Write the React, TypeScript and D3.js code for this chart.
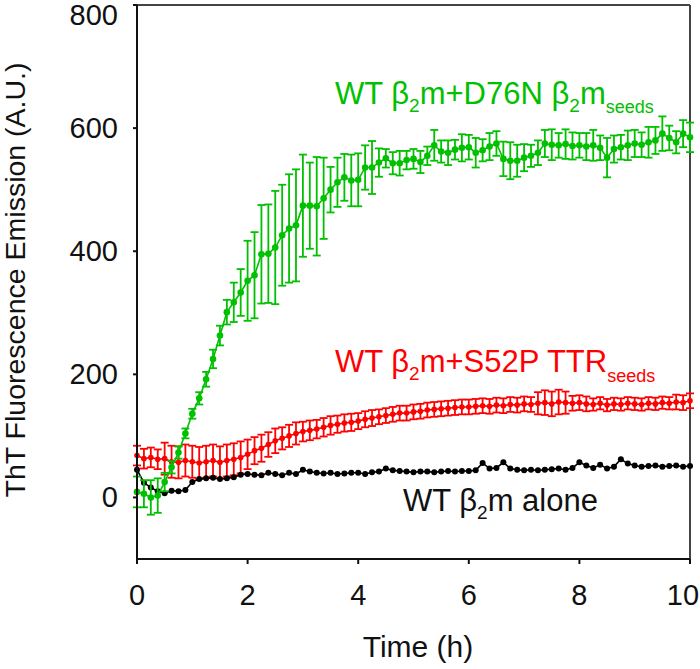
import React from "react";
import * as d3 from "d3";

const times = [
  0, 0.125, 0.25, 0.375, 0.5, 0.625, 0.75, 0.875, 1, 1.125, 1.25, 1.375, 1.5, 1.625, 1.75, 1.875,
  2, 2.125, 2.25, 2.375, 2.5, 2.625, 2.75, 2.875, 3, 3.125, 3.25, 3.375, 3.5, 3.625, 3.75, 3.875,
  4, 4.125, 4.25, 4.375, 4.5, 4.625, 4.75, 4.875, 5, 5.125, 5.25, 5.375, 5.5, 5.625, 5.75, 5.875,
  6, 6.125, 6.25, 6.375, 6.5, 6.625, 6.75, 6.875, 7, 7.125, 7.25, 7.375, 7.5, 7.625, 7.75, 7.875,
  8, 8.125, 8.25, 8.375, 8.5, 8.625, 8.75, 8.875, 9, 9.125, 9.25, 9.375, 9.5, 9.625, 9.75, 9.875, 10,
];

const greenValues = [
  9, 6, 0, 3, 25, 49, 73, 104, 136, 161, 192, 225, 263, 301, 317, 333,
  352, 361, 395, 396, 406, 426, 437, 442, 474, 474, 473, 486, 500, 512, 520, 515,
  516, 536, 536, 544, 551, 543, 543, 548, 550, 545, 555, 572, 562, 560, 565, 568,
  569, 560, 564, 570, 575, 550, 547, 547, 552, 555, 560, 575, 573, 572, 574, 571,
  572, 570, 572, 568, 552, 566, 569, 572, 575, 573, 577, 580, 591, 584, 577, 591, 585,
];
const greenErrors = [
  25, 22, 28, 28, 15, 10, 10, 8, 8, 10, 12, 15, 16, 20, 32, 38,
  65, 70, 80, 80, 92, 82, 88, 91, 83, 70, 80, 66, 37, 40, 38, 42,
  43, 36, 43, 23, 15, 18, 20, 15, 16, 18, 15, 25, 18, 20, 16, 22,
  20, 24, 18, 22, 20, 28, 30, 26, 22, 18, 20, 22, 25, 20, 24, 22,
  20, 22, 25, 20, 32, 22, 20, 24, 22, 20, 25, 22, 28, 20, 18, 22, 24,
];

const redValues = [
  68, 63, 65, 62, 63, 58, 57, 60, 58, 56, 58, 60, 57, 60, 62, 65,
  70, 76, 80, 86, 92, 96, 100, 104, 107, 109, 111, 114, 117, 119, 121, 122,
  124, 127, 129, 131, 133, 135, 137, 137, 139, 140, 142, 143, 144, 145, 146, 147,
  147, 148, 149, 148, 150, 149, 151, 150, 152, 151, 153, 154, 152, 155, 154, 153,
  154, 152, 151, 153, 150, 152, 151, 153, 152, 151, 153, 152, 154, 153, 155, 154, 157,
];
const redErrors = [
  16, 16, 16, 16, 26, 26, 26, 26, 26, 26, 26, 26, 26, 26, 26, 26,
  24, 22, 22, 20, 20, 18, 18, 18, 16, 16, 15, 15, 15, 14, 14, 14,
  13, 13, 13, 12, 12, 12, 12, 12, 12, 12, 12, 12, 12, 12, 12, 12,
  12, 12, 12, 12, 12, 12, 12, 12, 12, 12, 18, 20, 20, 20, 18, 12,
  12, 12, 10, 10, 10, 10, 10, 10, 10, 10, 10, 10, 10, 10, 12, 12, 12,
];

const blackValues = [
  45, 24, 16, 10, 7, 11, 10, 12, 25, 30, 31, 32, 30, 31, 33, 37,
  38, 37, 36, 40, 38, 36, 40, 38, 45, 42, 40, 39, 40, 38, 39, 40,
  40, 38, 41, 42, 47, 44, 43, 42, 41, 42, 42, 41, 42, 43, 42, 43,
  43, 44, 56, 47, 48, 57, 47, 45, 44, 45, 44, 45, 46, 47, 45, 48,
  57, 52, 48, 53, 47, 50, 62, 55, 52, 50, 51, 52, 50, 51, 52, 50, 51,
];

const xTicks = [0, 2, 4, 6, 8, 10];
const yTicks = [0, 200, 400, 600, 800];

const GREEN = "#00c000";
const RED = "#ff0000";
const FONT = "'Liberation Sans', Arial, sans-serif";

export default function App() {
  const x = d3.scaleLinear().domain([0, 10]).range([137, 690]);
  const y = d3.scaleLinear().domain([-100, 800]).range([559, 5]);

  const mk = (vals: number[]) => times.map((t, i) => ({ t, v: vals[i] }));
  const line = d3
    .line<{ t: number; v: number }>()
    .x((d) => x(d.t))
    .y((d) => y(d.v));

  const errorBars = (vals: number[], errs: number[], color: string, key: string) =>
    times.map((t, i) => {
      const cx = x(t);
      const y1 = y(vals[i] + errs[i]);
      const y2 = y(vals[i] - errs[i]);
      return (
        <g key={key + i} stroke={color} strokeWidth={1.8}>
          <line x1={cx} x2={cx} y1={y1} y2={y2} />
          <line x1={cx - 4} x2={cx + 4} y1={y1} y2={y1} />
          <line x1={cx - 4} x2={cx + 4} y1={y2} y2={y2} />
        </g>
      );
    });

  const series = (vals: number[], color: string, r: number, key: string) => (
    <g>
      <path d={line(mk(vals)) || ""} fill="none" stroke={color} strokeWidth={1.6} />
      {times.map((t, i) => (
        <circle key={key + i} cx={x(t)} cy={y(vals[i])} r={r} fill={color} />
      ))}
    </g>
  );

  return (
    <svg
      width={700}
      height={669}
      style={{ position: "absolute", left: 0, top: 0, background: "#fff" }}
      fontFamily={FONT}
    >
      <rect x={0} y={0} width={700} height={669} fill="#fff" />
      {/* frame */}
      <line x1={x(0)} x2={x(10)} y1={y(800)} y2={y(800)} stroke="#444" strokeWidth={2} />
      <line x1={x(10)} x2={x(10)} y1={y(800)} y2={y(-100)} stroke="#444" strokeWidth={2} />

      {/* data */}
      {errorBars(redValues, redErrors, RED, "re")}
      {series(redValues, RED, 2.8, "rc")}
      {series(blackValues, "#000", 3, "bc")}
      {errorBars(greenValues, greenErrors, GREEN, "ge")}
      {series(greenValues, GREEN, 3.3, "gc")}

      {/* axes */}
      <line x1={x(0)} x2={x(0)} y1={y(800)} y2={y(-100)} stroke="#111" strokeWidth={2} />
      <line x1={x(0)} x2={x(10)} y1={y(-100)} y2={y(-100)} stroke="#111" strokeWidth={2} />
      {yTicks.map((t) => (
        <g key={"yt" + t}>
          <line x1={x(0) - 4} x2={x(0)} y1={y(t)} y2={y(t)} stroke="#111" strokeWidth={2} />
          <text
            x={118}
            y={Math.max(y(t), 15)}
            textAnchor="end"
            dominantBaseline="central"
            fontSize={29}
            fill="#111"
          >
            {t}
          </text>
        </g>
      ))}
      {xTicks.map((t) => (
        <g key={"xt" + t}>
          <line x1={x(t)} x2={x(t)} y1={y(-100)} y2={y(-100) + 5} stroke="#111" strokeWidth={2} />
          <text x={Math.min(x(t), 683)} y={605} textAnchor="middle" fontSize={29} fill="#111">
            {t}
          </text>
        </g>
      ))}
      <text x={418} y={657} textAnchor="middle" fontSize={30} fill="#111">
        Time (h)
      </text>
      <text
        transform="translate(25,280) rotate(-90)"
        textAnchor="middle"
        fontSize={28.5}
        fill="#111"
      >
        ThT Fluorescence Emission (A.U.)
      </text>

      {/* annotations */}
      <text x={335} y={104} fontSize={31} fill={GREEN}>
        WT β<tspan fontSize={19} dy={8}>2</tspan>
        <tspan dy={-8}>m+D76N β</tspan>
        <tspan fontSize={19} dy={8}>2</tspan>
        <tspan dy={-8}>m</tspan>
        <tspan fontSize={18} dy={9}>seeds</tspan>
      </text>
      <text x={335} y={372} fontSize={31} fill={RED}>
        WT β<tspan fontSize={19} dy={8}>2</tspan>
        <tspan dy={-8}>m+S52P TTR</tspan>
        <tspan fontSize={18} dy={10}>seeds</tspan>
      </text>
      <text x={403} y={511} fontSize={31} fill="#111">
        WT β<tspan fontSize={19} dy={8}>2</tspan>
        <tspan dy={-8}>m alone</tspan>
      </text>
    </svg>
  );
}
